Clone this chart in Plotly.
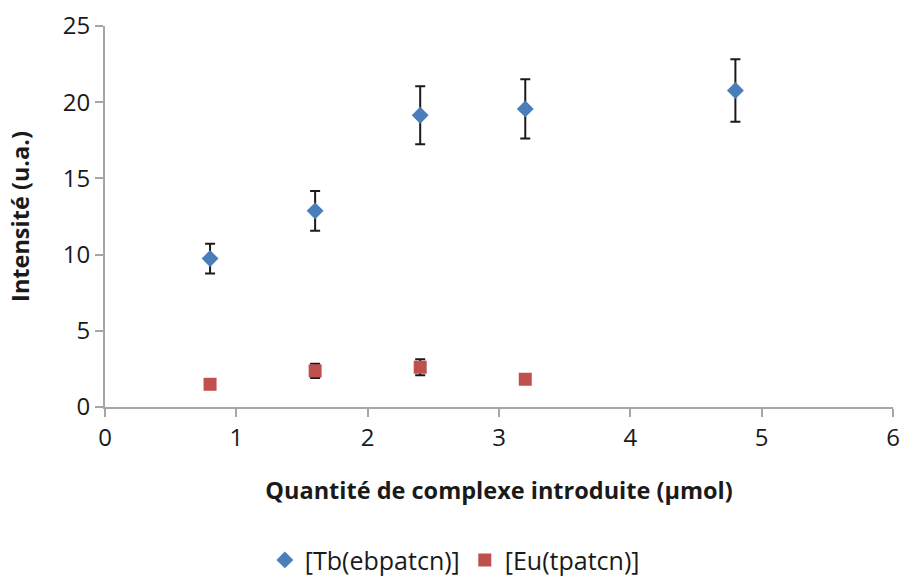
import plotly.graph_objs as go

# --- Data ---
tb_x = [0.8, 1.6, 2.4, 3.2, 4.8]
tb_y = [9.74, 12.87, 19.14, 19.56, 20.77]
tb_err = [0.98, 1.3, 1.9, 1.95, 2.05]

eu_x = [0.8, 1.6, 2.4, 3.2]
eu_y = [1.49, 2.37, 2.61, 1.82]
eu_err = [0.0, 0.47, 0.52, 0.0]

font_family = "Open Sans, Noto Sans, sans-serif"

data = [
    go.Scatter(
        x=tb_x, y=tb_y, mode="markers", name="[Tb(ebpatcn)]",
        marker=dict(symbol="diamond", size=13, color="#4A7EBB"),
        error_y=dict(type="data", array=tb_err, visible=True,
                     color="#1a1a1a", thickness=2, width=5),
    ),
    go.Scatter(
        x=eu_x, y=eu_y, mode="markers", name="[Eu(tpatcn)]",
        marker=dict(symbol="square", size=13, color="#C0504D"),
        error_y=dict(type="data", array=eu_err, visible=True,
                     color="#1a1a1a", thickness=2, width=5),
    ),
]

layout = go.Layout(
    width=904, height=577,
    margin=dict(l=105, r=11, t=26, b=170, autoexpand=False),
    plot_bgcolor="white", paper_bgcolor="white",
    font=dict(family=font_family, size=24, color="#1a1a1a"),
    xaxis=dict(
        range=[0, 6], dtick=1, showgrid=False, zeroline=False,
        showline=True, linecolor="#A6A6A6", linewidth=2,
        ticks="outside", ticklen=8, tickcolor="#A6A6A6", tickwidth=2,
        tickfont=dict(size=24), automargin=False, ticklabeloverflow="allow",
        title=dict(text="<b>Quantité de complexe introduite (µmol)</b>",
                   font=dict(size=23.5), standoff=31),
    ),
    yaxis=dict(
        range=[0, 25], dtick=5, showgrid=False, zeroline=False,
        showline=True, linecolor="#A6A6A6", linewidth=2,
        ticks="outside", ticklen=8, tickcolor="#A6A6A6", tickwidth=2,
        tickfont=dict(size=24), automargin=False,
        title=dict(text="<b>Intensité (u.a.)</b>", font=dict(size=23.5), standoff=27),
    ),
    legend=dict(
        orientation="h", x=0.444, xanchor="center", y=-0.402, yanchor="middle",
        font=dict(size=25), itemwidth=30,
    ),
    showlegend=True,
)

fig = go.Figure(data=data, layout=layout)
# drop the default 8px body margin so the figure fills the window
fig.write_html("out.html", config={"displayModeBar": False},
               post_script="document.body.style.margin='0';")
